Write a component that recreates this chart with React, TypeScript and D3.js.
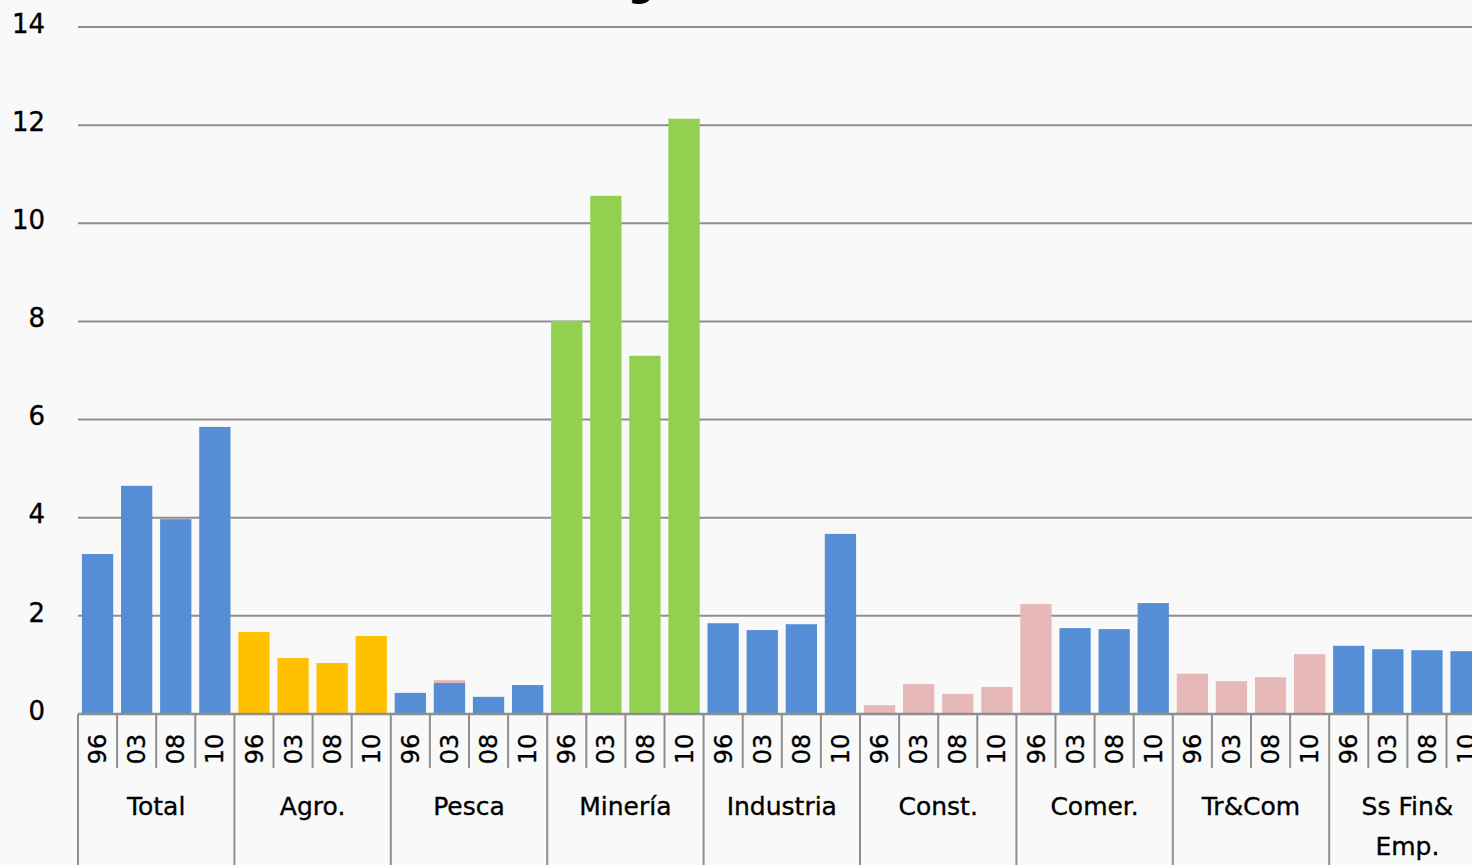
import React from "react";
import * as d3 from "d3";

const categories = ["Total", "Agro.", "Pesca", "Minería", "Industria", "Const.", "Comer.", "Tr&Com", "Ss Fin&\nEmp."];
const years = ["96", "03", "08", "10"];
const yTicks = [0, 2, 4, 6, 8, 10, 12, 14];

// values by series, one entry per category×year slot (null = no bar)
const blueSeries = [
  3.26, 4.65, 3.97, 5.85,
  null, null, null, null,
  0.43, 0.63, 0.35, 0.59,
  null, null, null, null,
  1.85, 1.71, 1.83, 3.67,
  null, null, null, null,
  null, 1.75, 1.73, 2.26,
  null, null, null, null,
  1.39, 1.32, 1.30, 1.28,
];
const yellowSeries = [
  null, null, null, null,
  1.67, 1.14, 1.04, 1.59,
  null, null, null, null,
  null, null, null, null,
  null, null, null, null,
  null, null, null, null,
  null, null, null, null,
  null, null, null, null,
  null, null, null, null,
];
const greenSeries = [
  null, null, null, null,
  null, null, null, null,
  null, null, null, null,
  8.01, 10.56, 7.3, 12.13,
  null, null, null, null,
  null, null, null, null,
  null, null, null, null,
  null, null, null, null,
  null, null, null, null,
];
const pinkSeries = [
  null, null, null, null,
  null, null, null, null,
  null, 0.69, null, null,
  null, null, null, null,
  null, null, null, null,
  0.18, 0.61, 0.41, 0.55,
  2.24, null, null, null,
  0.82, 0.67, 0.75, 1.22,
  null, null, null, null,
];

const W = 1472;
const H = 865;
const FONT = "'DejaVu Sans', Verdana, sans-serif";

export default function App() {
  const slots = categories.flatMap((c, ci) => years.map((y) => `${ci}-${y}`));
  const x = d3.scaleBand<string>().domain(slots).range([78, 78 + 36 * 39.1]).paddingInner(0.2).paddingOuter(0.1);
  const xCat = d3.scaleBand<string>().domain(categories).range([78, 78 + 36 * 39.1]);
  const y = d3.scaleLinear().domain([0, 14]).range([714, 27]);
  const slotLeft = (i: number) => 78 + i * 39.1;

  const series = [
    { data: pinkSeries, color: "#E6B9B8" },
    { data: blueSeries, color: "#558ED5" },
    { data: yellowSeries, color: "#FFC000" },
    { data: greenSeries, color: "#92D050" },
  ];

  const textStyle = { stroke: "#000", strokeWidth: 0.35 };

  return (
    <svg width={W} height={H} style={{ position: "absolute", left: 0, top: 0, background: "#F9F9F9" }} fontFamily={FONT}>
      <rect x={0} y={0} width={W} height={H} fill="#F9F9F9" />
      {/* title (mostly cropped off above) */}
      <text x={628} y={-3} fontSize={36} fontWeight="bold" textAnchor="end" fill="#000">Productividad relativa se</text>
      <text x={628} y={-3} fontSize={36} fontWeight="bold" textAnchor="start" fill="#000">gún sector</text>

      {/* gridlines */}
      {yTicks.map((t) => (
        <line key={t} x1={78} x2={W} y1={y(t)} y2={y(t)} stroke="#8E8E8E" strokeWidth={2} />
      ))}
      {yTicks.map((t) => (
        <text key={"l" + t} x={45} y={y(t)} dy="0.22em" fontSize={26} textAnchor="end" fill="#000" style={textStyle}>{t}</text>
      ))}

      {/* bars */}
      {series.map((s, si) =>
        s.data.map((v, i) =>
          v == null ? null : (
            <rect key={si + "-" + i} x={x(slots[i])} y={y(v)} width={x.bandwidth()} height={y(0) - y(v)} fill={s.color} />
          )
        )
      )}

      {/* x axis line */}
      <line x1={78} x2={W} y1={y(0)} y2={y(0)} stroke="#8E8E8E" strokeWidth={2.5} />

      {/* ticks */}
      {slots.map((s, i) => (
        <line key={"t" + i} x1={slotLeft(i)} x2={slotLeft(i)} y1={y(0)} y2={i % 4 === 0 ? H : 768} stroke="#8E8E8E" strokeWidth={2} />
      ))}
      <line x1={slotLeft(36)} x2={slotLeft(36)} y1={y(0)} y2={H} stroke="#8E8E8E" strokeWidth={2} />

      {/* year labels */}
      {slots.map((s, i) => {
        const cx = (x(s) as number) + x.bandwidth() / 2;
        return (
          <text key={"y" + i} transform={`translate(${cx},749) rotate(-90)`} dy="0.36em" fontSize={24} textAnchor="middle" fill="#000" style={textStyle}>
            {years[i % 4]}
          </text>
        );
      })}

      {/* category labels */}
      {categories.map((c) => {
        const cx = (xCat(c) as number) + xCat.bandwidth() / 2;
        const lines = c.split("\n");
        return (
          <text key={c} x={cx} y={815} fontSize={25} textAnchor="middle" fill="#000" style={textStyle}>
            {lines.map((l, li) => (
              <tspan key={li} x={cx} dy={li === 0 ? 0 : 40}>{l}</tspan>
            ))}
          </text>
        );
      })}
    </svg>
  );
}
